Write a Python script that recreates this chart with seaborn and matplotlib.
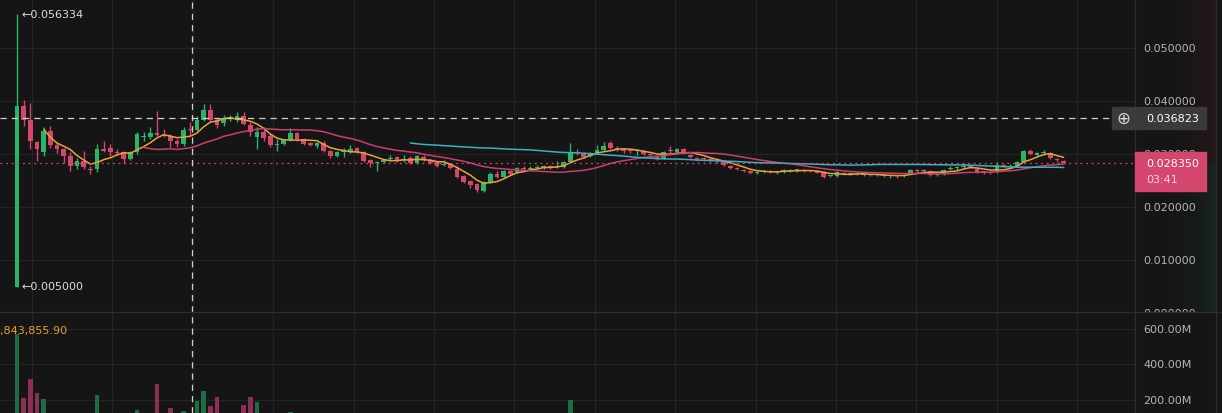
import numpy as np
import pandas as pd
import seaborn as sns
import matplotlib
matplotlib.use("Agg")
import matplotlib.pyplot as plt
import matplotlib.transforms as mtransforms
from matplotlib.patches import Rectangle
from matplotlib.lines import Line2D

# ---- candles left to right ----
opens = [
    0.0050, 0.0391, 0.0364, 0.0323, 0.0304, 0.0343, 0.0317, 0.0309, 0.0296, 0.0277,
    0.0287, 0.0272, 0.0272, 0.0309, 0.0311, 0.0304, 0.0304, 0.0291, 0.0304, 0.0332,
    0.0332, 0.0340, 0.0336, 0.0334, 0.0325, 0.0319, 0.0347, 0.0345, 0.0364, 0.0383,
    0.0364, 0.0358, 0.0368, 0.0364, 0.0372, 0.0355, 0.0332, 0.0342, 0.0334, 0.0317,
    0.0319, 0.0326, 0.0340, 0.0328, 0.0321, 0.0315, 0.0321, 0.0306, 0.0296, 0.0304,
    0.0304, 0.0311, 0.0304, 0.0289, 0.0283, 0.0285, 0.0291, 0.0294, 0.0289, 0.0293,
    0.0283, 0.0294, 0.0289, 0.0285, 0.0279, 0.0281, 0.0272, 0.0258, 0.0249, 0.0243,
    0.0230, 0.0247, 0.0262, 0.0257, 0.0268, 0.0266, 0.0274, 0.0272, 0.0274, 0.0275,
    0.0276, 0.0275, 0.0276, 0.0285, 0.0304, 0.0300, 0.0296, 0.0302, 0.0308, 0.0321,
    0.0311, 0.0309, 0.0306, 0.0305, 0.0306, 0.0300, 0.0296, 0.0292, 0.0306, 0.0304,
    0.0309, 0.0298, 0.0292, 0.0291, 0.0290, 0.0288, 0.0285, 0.0277, 0.0273, 0.0270,
    0.0268, 0.0264, 0.0266, 0.0268, 0.0266, 0.0266, 0.0268, 0.0269, 0.0270, 0.0268,
    0.0267, 0.0266, 0.0258, 0.0259, 0.0264, 0.0262, 0.0263, 0.0260, 0.0261, 0.0260,
    0.0260, 0.0258, 0.0259, 0.0258, 0.0264, 0.0270, 0.0268, 0.0268, 0.0261, 0.0262,
    0.0272, 0.0273, 0.0276, 0.0278, 0.0272, 0.0267, 0.0266, 0.0266, 0.0279, 0.0276,
    0.0277, 0.0285, 0.0306, 0.0299, 0.0301, 0.0302, 0.0291, 0.0287,
]
highs = [
    0.056334, 0.0402, 0.0396, 0.0325, 0.0351, 0.0353, 0.0323, 0.0311, 0.0304, 0.0292,
    0.0306, 0.0277, 0.0319, 0.0325, 0.0319, 0.0309, 0.0306, 0.0306, 0.0342, 0.0342,
    0.0351, 0.0381, 0.0347, 0.0338, 0.0328, 0.0351, 0.0360, 0.0372, 0.0394, 0.0394,
    0.0368, 0.0374, 0.0374, 0.0379, 0.0379, 0.0360, 0.0351, 0.0351, 0.0338, 0.0328,
    0.0328, 0.0349, 0.0342, 0.0330, 0.0323, 0.0323, 0.0325, 0.0308, 0.0306, 0.0311,
    0.0317, 0.0313, 0.0306, 0.0291, 0.0287, 0.0291, 0.0298, 0.0296, 0.0298, 0.0296,
    0.0298, 0.0298, 0.0291, 0.0287, 0.0289, 0.0283, 0.0277, 0.0260, 0.0251, 0.0245,
    0.0249, 0.0266, 0.0268, 0.0270, 0.0270, 0.0276, 0.0277, 0.0277, 0.0279, 0.0279,
    0.0279, 0.0287, 0.0287, 0.0321, 0.0309, 0.0304, 0.0304, 0.0317, 0.0323, 0.0325,
    0.0315, 0.0311, 0.0309, 0.0309, 0.0308, 0.0302, 0.0298, 0.0306, 0.0315, 0.0311,
    0.0311, 0.0300, 0.0294, 0.0294, 0.0292, 0.0289, 0.0287, 0.0279, 0.0275, 0.0272,
    0.0270, 0.0268, 0.0270, 0.0270, 0.0268, 0.0272, 0.0272, 0.0272, 0.0272, 0.0270,
    0.0269, 0.0268, 0.0260, 0.0268, 0.0266, 0.0265, 0.0265, 0.0264, 0.0263, 0.0263,
    0.0262, 0.0260, 0.0261, 0.0262, 0.0272, 0.0272, 0.0272, 0.0270, 0.0264, 0.0272,
    0.0277, 0.0277, 0.0281, 0.0279, 0.0274, 0.0268, 0.0268, 0.0285, 0.0281, 0.0281,
    0.0287, 0.0308, 0.0309, 0.0304, 0.0307, 0.0304, 0.0293, 0.0289,
]
lows = [
    0.0050, 0.0353, 0.0309, 0.0287, 0.0296, 0.0311, 0.0302, 0.0283, 0.0268, 0.0272,
    0.0272, 0.0262, 0.0266, 0.0304, 0.0296, 0.0298, 0.0283, 0.0289, 0.0300, 0.0325,
    0.0328, 0.0334, 0.0332, 0.0313, 0.0313, 0.0315, 0.0336, 0.0343, 0.0362, 0.0362,
    0.0349, 0.0353, 0.0362, 0.0360, 0.0355, 0.0334, 0.0309, 0.0325, 0.0313, 0.0306,
    0.0317, 0.0325, 0.0325, 0.0317, 0.0315, 0.0311, 0.0304, 0.0292, 0.0294, 0.0294,
    0.0302, 0.0302, 0.0285, 0.0275, 0.0268, 0.0283, 0.0287, 0.0285, 0.0285, 0.0281,
    0.0281, 0.0287, 0.0281, 0.0275, 0.0277, 0.0272, 0.0255, 0.0245, 0.0236, 0.0228,
    0.0228, 0.0245, 0.0255, 0.0255, 0.0260, 0.0264, 0.0270, 0.0270, 0.0272, 0.0272,
    0.0272, 0.0274, 0.0274, 0.0283, 0.0298, 0.0292, 0.0294, 0.0300, 0.0306, 0.0309,
    0.0306, 0.0302, 0.0302, 0.0298, 0.0298, 0.0294, 0.0289, 0.0291, 0.0300, 0.0302,
    0.0300, 0.0292, 0.0287, 0.0287, 0.0285, 0.0283, 0.0277, 0.0272, 0.0270, 0.0266,
    0.0262, 0.0262, 0.0264, 0.0264, 0.0262, 0.0264, 0.0266, 0.0266, 0.0266, 0.0266,
    0.0264, 0.0255, 0.0256, 0.0257, 0.0260, 0.0260, 0.0260, 0.0258, 0.0258, 0.0258,
    0.0256, 0.0255, 0.0255, 0.0256, 0.0262, 0.0266, 0.0266, 0.0258, 0.0258, 0.0260,
    0.0270, 0.0270, 0.0274, 0.0274, 0.0264, 0.0262, 0.0262, 0.0264, 0.0275, 0.0274,
    0.0276, 0.0283, 0.0298, 0.0296, 0.0298, 0.0291, 0.0285, 0.0281,
]
closes = [
    0.0391, 0.0364, 0.0325, 0.0309, 0.0343, 0.0317, 0.0309, 0.0296, 0.0277, 0.0287,
    0.0275, 0.0270, 0.0309, 0.0306, 0.0304, 0.0302, 0.0291, 0.0304, 0.0338, 0.0334,
    0.0340, 0.0336, 0.0334, 0.0325, 0.0319, 0.0345, 0.0345, 0.0364, 0.0383, 0.0364,
    0.0355, 0.0368, 0.0370, 0.0372, 0.0357, 0.0342, 0.0342, 0.0330, 0.0317, 0.0319,
    0.0326, 0.0340, 0.0328, 0.0319, 0.0317, 0.0321, 0.0306, 0.0296, 0.0304, 0.0306,
    0.0309, 0.0304, 0.0287, 0.0283, 0.0285, 0.0289, 0.0293, 0.0287, 0.0291, 0.0283,
    0.0296, 0.0289, 0.0283, 0.0277, 0.0281, 0.0274, 0.0257, 0.0247, 0.0242, 0.0232,
    0.0247, 0.0262, 0.0257, 0.0268, 0.0262, 0.0274, 0.0272, 0.0274, 0.0276, 0.0276,
    0.0275, 0.0277, 0.0285, 0.0304, 0.0302, 0.0294, 0.0302, 0.0308, 0.0315, 0.0311,
    0.0309, 0.0306, 0.0305, 0.0306, 0.0300, 0.0298, 0.0291, 0.0304, 0.0305, 0.0309,
    0.0302, 0.0294, 0.0291, 0.0290, 0.0288, 0.0286, 0.0279, 0.0274, 0.0271, 0.0268,
    0.0264, 0.0266, 0.0268, 0.0266, 0.0267, 0.0270, 0.0269, 0.0270, 0.0268, 0.0267,
    0.0265, 0.0257, 0.0259, 0.0266, 0.0262, 0.0263, 0.0262, 0.0261, 0.0260, 0.0261,
    0.0258, 0.0259, 0.0258, 0.0261, 0.0270, 0.0268, 0.0269, 0.0260, 0.0262, 0.0270,
    0.0274, 0.0274, 0.0278, 0.0276, 0.0266, 0.0265, 0.0264, 0.0279, 0.0277, 0.0278,
    0.0285, 0.0306, 0.0300, 0.0301, 0.0303, 0.0293, 0.0288, 0.02835,
]

# volume bars tall enough to show in the (cropped) lower panel
vol_index = [0, 1, 2, 3, 4, 12, 18, 21, 23, 25, 27, 28, 29, 30, 34, 35, 36, 41, 83]
vol_value = [570e6, 208e6, 315e6, 237e6, 203e6, 225e6, 141e6, 287e6, 152e6, 135e6,
             192e6, 248e6, 163e6, 214e6, 169e6, 214e6, 186e6, 130e6, 197e6]

ma_windows = [5, 20, 60]
price_ticks = [0.0, 0.01, 0.02, 0.03, 0.04, 0.05, 0.06]
vol_ticks = [200e6, 400e6, 600e6]
last_price = 0.02835
countdown = "03:41"
cross_price = 0.036823
cross_x = 26.25
vol_readout = "1,843,855.90"

# colours
BG = "#151515"
GRID = "#242424"
SEP = "#2d2d2d"
UP = "#2bb466"
DOWN = "#d5466f"
VOL_UP = "#1f6b44"
VOL_DOWN = "#8a3055"
MA_COLORS = ["#e9a23b", "#c7406f", "#3ab0c4"]
TICK = "#b5b5b5"

sns.set_style("dark", rc={"axes.facecolor": BG, "figure.facecolor": BG})
plt.rcParams["font.family"] = ["DejaVu Sans"]

W, H = 1222, 414
fig = plt.figure(figsize=(W / 100, H / 100), dpi=100)
ax = fig.add_axes([0, 101 / H, 1, 313 / H])
axv = fig.add_axes([0, 0, 1, 101 / H])

n = len(closes)
df = pd.DataFrame({"idx": np.arange(n), "open": opens, "high": highs,
                   "low": lows, "close": closes})
df["up"] = df["close"] >= df["open"]

step = 20 / 3  # px per candle
x0 = 17        # px of first candle
xlim = (-x0 / step, (W - x0) / step)
axis_edge = 1135 / W

for a in (ax, axv):
    a.set_facecolor(BG)
    a.set_xticks([])
    a.set_yticks([])
    for s in a.spines.values():
        s.set_visible(False)
    for gx in np.arange(2.25, 160, 12.06):
        a.axvline(gx, color=GRID, lw=0.9, zorder=0)

for p in price_ticks:
    ax.axhline(p, xmax=axis_edge, color=GRID, lw=0.9, zorder=0)
for v in vol_ticks:
    axv.axhline(v, xmax=axis_edge, color=GRID, lw=0.9, zorder=0)

# faint depth tint in the price-scale strip: red above the last price, green below
tint = np.zeros((200, 60, 4))
ramp = np.linspace(0, 1, 60) ** 2
py = np.linspace(ax.get_ylim()[0], ax.get_ylim()[1], 200)
tint[..., :3] = np.where((np.linspace(314 / 5300, 1 / 5300, 200) > last_price)[:, None, None],
                         [0.75, 0.2, 0.3], [0.2, 0.7, 0.4])
tint[..., 3] = 0.10 * ramp[None, :]

# candles
colors = np.where(df["up"], UP, DOWN)
ax.vlines(df["idx"], df["low"], df["high"], colors=colors, lw=1, zorder=2)
body_lo = df[["open", "close"]].min(axis=1)
body_h = (df["close"] - df["open"]).abs().clip(lower=0.0002)
ax.bar(df["idx"], body_h, bottom=body_lo, width=0.7, color=colors, lw=0, zorder=3)

# moving averages
for w, c in zip(ma_windows, MA_COLORS):
    df[f"ma{w}"] = df["close"].rolling(w).mean()
    sns.lineplot(data=df, x="idx", y=f"ma{w}", color=c, lw=1.1, ax=ax, zorder=4)

# volume
vol_df = pd.DataFrame({"idx": vol_index, "vol": vol_value})
vol_df["color"] = [VOL_UP if df["up"][i] else VOL_DOWN for i in vol_index]
axv.bar(vol_df["idx"], vol_df["vol"], width=0.7, color=vol_df["color"], lw=0, zorder=2)

# price line and crosshair
ax.axhline(last_price, xmax=axis_edge, color=DOWN, lw=0.9, ls=(0, (1.5, 3)), zorder=5)
ax.axhline(cross_price, xmax=1110 / W, color="#cfcfcf", lw=0.9, ls=(0, (5, 4)), zorder=5)
ax.axvline(cross_x, color="#cfcfcf", lw=0.9, ls=(0, (5, 4)), zorder=5)
axv.axvline(cross_x, color="#cfcfcf", lw=0.9, ls=(0, (5, 4)), zorder=5)

# high / low markers on the first candle
hi_i = int(np.argmax(highs))
lo_i = int(np.argmin(lows))
ax.annotate(f"\u2190{highs[hi_i]:.6f}", xy=(hi_i, highs[hi_i]), xytext=(5, 0),
            textcoords="offset pixels", va="center", color="#dcdcdc", fontsize=8)
ax.annotate(f"\u2190{lows[lo_i]:.6f}", xy=(lo_i, lows[lo_i]), xytext=(5, 0),
            textcoords="offset pixels", va="center", color="#dcdcdc", fontsize=8)

ax.set_xlim(*xlim)
axv.set_xlim(*xlim)
ax.set_ylim((314 - 313) / 5300, 314 / 5300)
axv.set_ylim(124e6, 693e6)
ax.imshow(tint, extent=(1155 / W, 1216 / W, 0, 1), transform=ax.transAxes,
          aspect="auto", zorder=0.5, interpolation="bilinear")
ax.set_xlim(*xlim)
ax.set_ylim((314 - 313) / 5300, 314 / 5300)

# right-hand scale labels
tr = mtransforms.blended_transform_factory(ax.transAxes, ax.transData)
for p in price_ticks:
    ax.text(1143 / W, p, f"{p:.6f}", transform=tr, va="center", ha="left",
            color=TICK, fontsize=8, zorder=6)
trv = mtransforms.blended_transform_factory(axv.transAxes, axv.transData)
for v in vol_ticks:
    axv.text(1143 / W, v, f"{v / 1e6:.2f}M", transform=trv, va="center", ha="left",
             color=TICK, fontsize=8, zorder=6)

# separators
fig.add_artist(Line2D([axis_edge, axis_edge], [0, 1], color=SEP, lw=1))
fig.add_artist(Line2D([1216 / W, 1216 / W], [0, 1], color=SEP, lw=1))
fig.add_artist(Line2D([0, 1], [101 / H, 101 / H], color=SEP, lw=1))

# last price tag
fig.add_artist(Rectangle((axis_edge, 1 - 192 / H), 71 / W, 39 / H,
                         transform=fig.transFigure, color=DOWN, zorder=5))
fig.text(1146 / W, 1 - 164 / H, f"{last_price:.6f}", color="white", fontsize=8,
         va="center", ha="left", zorder=6)
fig.text(1146 / W, 1 - 180 / H, countdown, color="#f6d6df", fontsize=8,
         va="center", ha="left", zorder=6)

# crosshair tag
fig.add_artist(Rectangle((1112 / W, 1 - 130 / H), 94 / W, 22 / H,
                         transform=fig.transFigure, color="#3a3a3a", zorder=5))
fig.text(1123 / W, 1 - 119 / H, "\u2295", color="#d8d8d8", fontsize=12,
         va="center", ha="center", zorder=6)
fig.text(1146 / W, 1 - 119 / H, f"{cross_price:.6f}", color="white", fontsize=8,
         va="center", ha="left", zorder=6)

# volume readout, cut by the left edge
fig.text(-6 / W, 1 - 331 / H, vol_readout, color="#e0a030", fontsize=8,
         va="center", ha="left")

fig.savefig("out.png", dpi=100, facecolor=BG)
